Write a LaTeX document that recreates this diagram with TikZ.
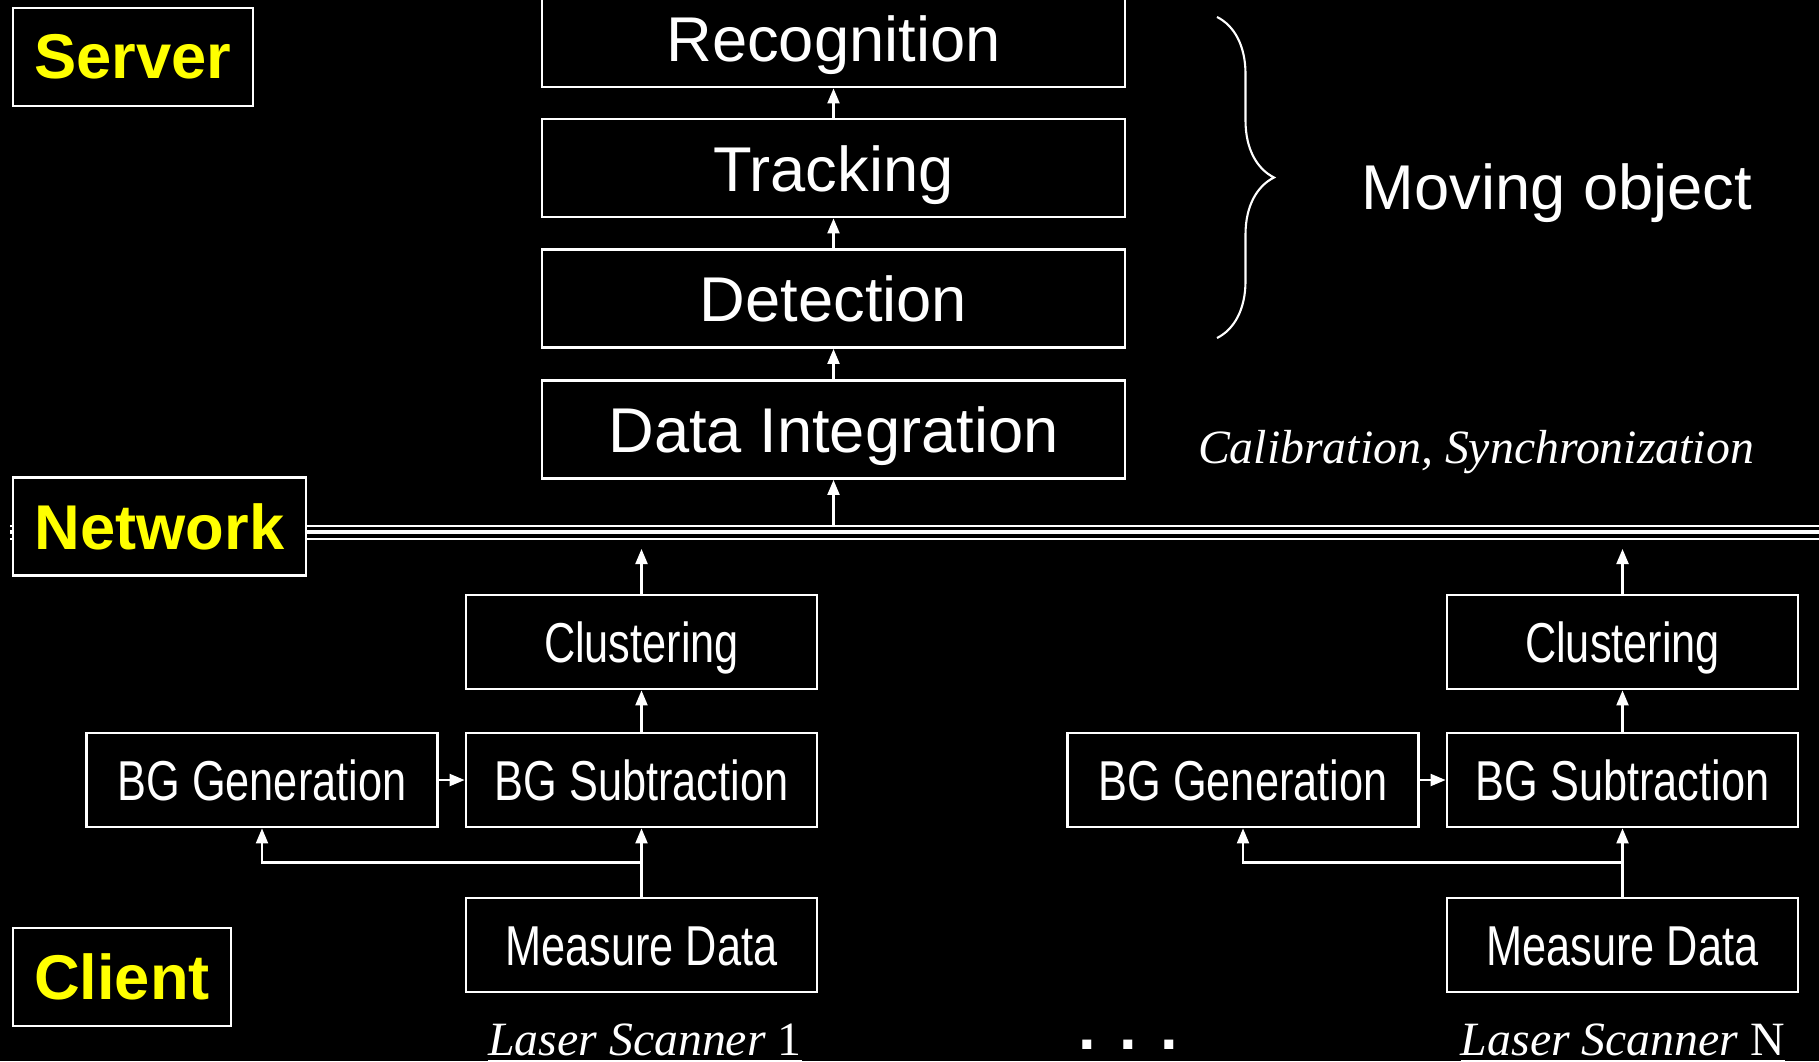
\documentclass[tikz,border=0pt]{standalone}
\usepackage{fontspec}
\setmainfont{Liberation Sans}
\newfontfamily\narrowfont[FakeStretch=0.77]{Liberation Sans}
\newfontfamily\seriffont{Liberation Serif}
\usetikzlibrary{arrows.meta,positioning,calc,decorations.pathreplacing}
\definecolor{tieryellow}{RGB}{255,255,0}
\tikzset{
  stage/.style={rectangle, draw=white, line width=0.8pt, fill=black, minimum width=58.3mm, minimum height=9.8mm, inner sep=0pt, text height=4.6mm, text depth=0pt, text=white, font=\fontsize{18}{20}\selectfont},
  clientstage/.style={rectangle, draw=white, line width=0.8pt, fill=black, minimum width=35.1mm, minimum height=9.4mm, inner sep=0pt, text height=4.1mm, text depth=0pt, text=white, font=\narrowfont\fontsize{16}{18}\selectfont},
  tier/.style={rectangle, draw=white, line width=0.8pt, fill=black, minimum height=9.8mm, inner sep=0pt, text=tieryellow, font=\bfseries\fontsize{18}{20}\selectfont},
  note/.style={text=white, inner sep=1pt, font=\seriffont\itshape\fontsize{13.6}{16}\selectfont},
  arrow/.style={-{Triangle[length=1.5mm, width=1.2mm]}, white, line width=0.6pt},
  netline/.style={white, line width=0.5pt}
}
\begin{document}
\begin{tikzpicture}
  \fill[black] (0,0) rectangle (18.19,10.61);
  \useasboundingbox (0,0) rectangle (18.19,10.61);
  % network bus
  \coordinate (nettop) at (0.1,5.35);
  \coordinate (netgap) at (0.1,5.12);
  \draw[netline] (nettop) -- (18.19,5.35);
  \draw[netline, line width=1.3pt] (0.1,5.29) -- (18.19,5.29);
  \draw[netline] (0.1,5.22) -- (18.19,5.22);
  % tiers
  \node[tier, minimum width=24mm] (server) at (1.33,10.04) {Server};
  \node[tier, minimum width=29.3mm] (network) at (1.595,5.345) {Network};
  \node[tier, minimum width=21.8mm] (client) at (1.22,0.84) {Client};
  % server side
  \node[stage] (recog) at (8.335,10.23) {Recognition};
  \node[stage] (track) at (8.335,8.93) {Tracking};
  \node[stage] (detect) at (8.335,7.625) {Detection};
  \node[stage] (integ) at (8.335,6.315) {Data Integration};
  \draw[arrow] (integ.north) -- (detect.south);
  \draw[arrow] (detect.north) -- (track.south);
  \draw[arrow] (track.north) -- (recog.south);
  \draw[arrow] (integ.south |- nettop) -- (integ.south);
  \draw[white, line width=0.6pt, decorate, decoration={brace, amplitude=5.7mm}] (12.17,10.44) -- (12.17,7.23);
  \node[text=white, font=\fontsize{18}{20}\selectfont] (moving) at (15.57,8.68) {Moving object};
  \node[note] (calib) at (14.76,6.09) {Calibration, Synchronization};
  % client side
  \foreach \side/\dx in {L/0, R/9.81} {
    \node[clientstage] (cluster\side) at (6.415+\dx,4.19) {Clustering};
    \node[clientstage] (gen\side) at (2.62+\dx,2.81) {BG Generation};
    \node[clientstage] (sub\side) at (6.415+\dx,2.81) {BG Subtraction};
    \node[clientstage] (measure\side) at (6.415+\dx,1.16) {Measure Data};
    \coordinate (split\side) at ($(measure\side.north)!0.5!(sub\side.south)$);
    \draw[arrow] (measure\side.north) -- (sub\side.south);
    \draw[arrow] (split\side) -| (gen\side.south);
    \draw[arrow] (gen\side.east) -- (sub\side.west);
    \draw[arrow] (sub\side.north) -- (cluster\side.south);
    \draw[arrow] (cluster\side.north) -- (cluster\side.north |- netgap);
  }
  \node[note] (scan1) at (6.45,0.18) {\underline{Laser Scanner \textup{1}}};
  \node[note] (scanN) at (16.23,0.18) {\underline{Laser Scanner \textup{N}}};
  \node[text=white, inner sep=0pt, font=\bfseries\fontsize{18}{20}\selectfont] (dots) at (11.28,0.16) {. . .};
\end{tikzpicture}
\end{document}
